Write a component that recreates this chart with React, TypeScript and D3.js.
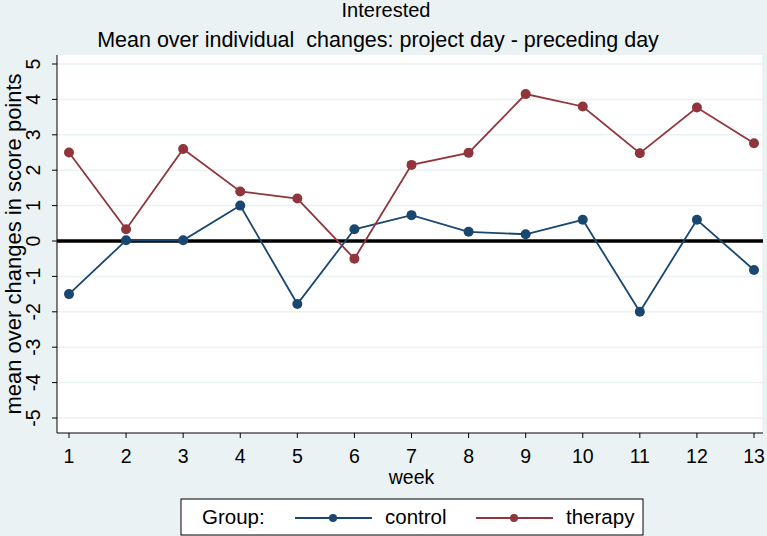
import React from "react";
import * as d3 from "d3";

const weeks = [1, 2, 3, 4, 5, 6, 7, 8, 9, 10, 11, 12, 13];
const control = [-1.5, 0.02, 0.02, 1.0, -1.78, 0.33, 0.73, 0.26, 0.19, 0.6, -2.0, 0.6, -0.82];
const therapy = [2.5, 0.33, 2.6, 1.4, 1.2, -0.5, 2.15, 2.49, 4.15, 3.8, 2.48, 3.77, 2.76];
const yTicks = [-5, -4, -3, -2, -1, 0, 1, 2, 3, 4, 5];
const seriesNames = ["control", "therapy"];
const colors = ["#1a476f", "#90353b"];

const W = 767, H = 536;
const plot = { left: 57, top: 55, right: 763, bottom: 433 };
const font = "'Liberation Sans', Arial, sans-serif";

export default function App() {
  const x = d3.scaleLinear().domain([1, 13]).range([69, 754]);
  const y = d3.scaleLinear().domain([-5, 5]).range([418, 64]);
  const line = d3.line<number>().x((_, i) => x(weeks[i])).y((d) => y(d));
  const series = [control, therapy];

  return (
    <div style={{ position: "absolute", left: 0, top: 0 }}>
      <svg width={W} height={H} style={{ display: "block" }}>
        <rect x={0} y={0} width={W} height={H} fill="#eaf2f3" />
        <text x={386} y={17} textAnchor="middle" fontFamily={font} fontSize={20} fill="#000">Interested</text>
        <text x={378} y={47} textAnchor="middle" fontFamily={font} fontSize={21.5} fill="#000" style={{ whiteSpace: "pre" }}>Mean over individual  changes: project day - preceding day</text>
        <rect x={plot.left} y={plot.top} width={plot.right - plot.left} height={plot.bottom - plot.top} fill="#fff" />
        {yTicks.map((t) => (
          <line key={"g" + t} x1={plot.left} x2={plot.right} y1={y(t)} y2={y(t)} stroke="#eaf2f3" strokeWidth={1.5} />
        ))}
        <line x1={plot.right} x2={plot.right} y1={plot.top} y2={plot.bottom} stroke="#e3ecee" strokeWidth={1} />
        <line x1={plot.left} x2={plot.right} y1={y(0)} y2={y(0)} stroke="#000" strokeWidth={3.5} />
        <line x1={plot.left} x2={plot.left} y1={plot.top} y2={plot.bottom} stroke="#000" strokeWidth={1} />
        <line x1={plot.left} x2={plot.right} y1={plot.bottom} y2={plot.bottom} stroke="#000" strokeWidth={1} />
        {yTicks.map((t) => (
          <g key={"yt" + t}>
            <line x1={plot.left - 5} x2={plot.left} y1={y(t)} y2={y(t)} stroke="#000" />
            <text transform={`translate(40,${y(t)}) rotate(-90)`} textAnchor="middle" fontFamily={font} fontSize={19.5} fill="#000">{t}</text>
          </g>
        ))}
        {weeks.map((w) => (
          <g key={"xt" + w}>
            <line x1={x(w)} x2={x(w)} y1={plot.bottom} y2={plot.bottom + 5} stroke="#000" />
            <text x={x(w)} y={463} textAnchor="middle" fontFamily={font} fontSize={19.5} fill="#000">{w}</text>
          </g>
        ))}
        <text x={411.5} y={484} textAnchor="middle" fontFamily={font} fontSize={19.5} fill="#000">week</text>
        <text transform={`translate(21,244) rotate(-90)`} textAnchor="middle" fontFamily={font} fontSize={22} fill="#000">mean over changes in score points</text>
        {series.map((s, k) => (
          <g key={"s" + k}>
            <path d={line(s) || ""} fill="none" stroke={colors[k]} strokeWidth={1.8} />
            {s.map((v, i) => (
              <circle key={i} cx={x(weeks[i])} cy={y(v)} r={5} fill={colors[k]} />
            ))}
          </g>
        ))}
        <rect x={181} y={499} width={462} height={36} fill="#fff" stroke="#000" strokeWidth={1} />
        <text x={202} y={524} fontFamily={font} fontSize={20.5} fill="#000">Group:</text>
        {seriesNames.map((n, k) => {
          const x0 = k === 0 ? 295 : 476;
          return (
            <g key={"l" + n}>
              <line x1={x0} x2={x0 + 77} y1={518} y2={518} stroke={colors[k]} strokeWidth={1.8} />
              <circle cx={x0 + 38} cy={518} r={4} fill={colors[k]} />
              <text x={x0 + 90} y={524} fontFamily={font} fontSize={20.5} fill="#000">{n}</text>
            </g>
          );
        })}
      </svg>
    </div>
  );
}
